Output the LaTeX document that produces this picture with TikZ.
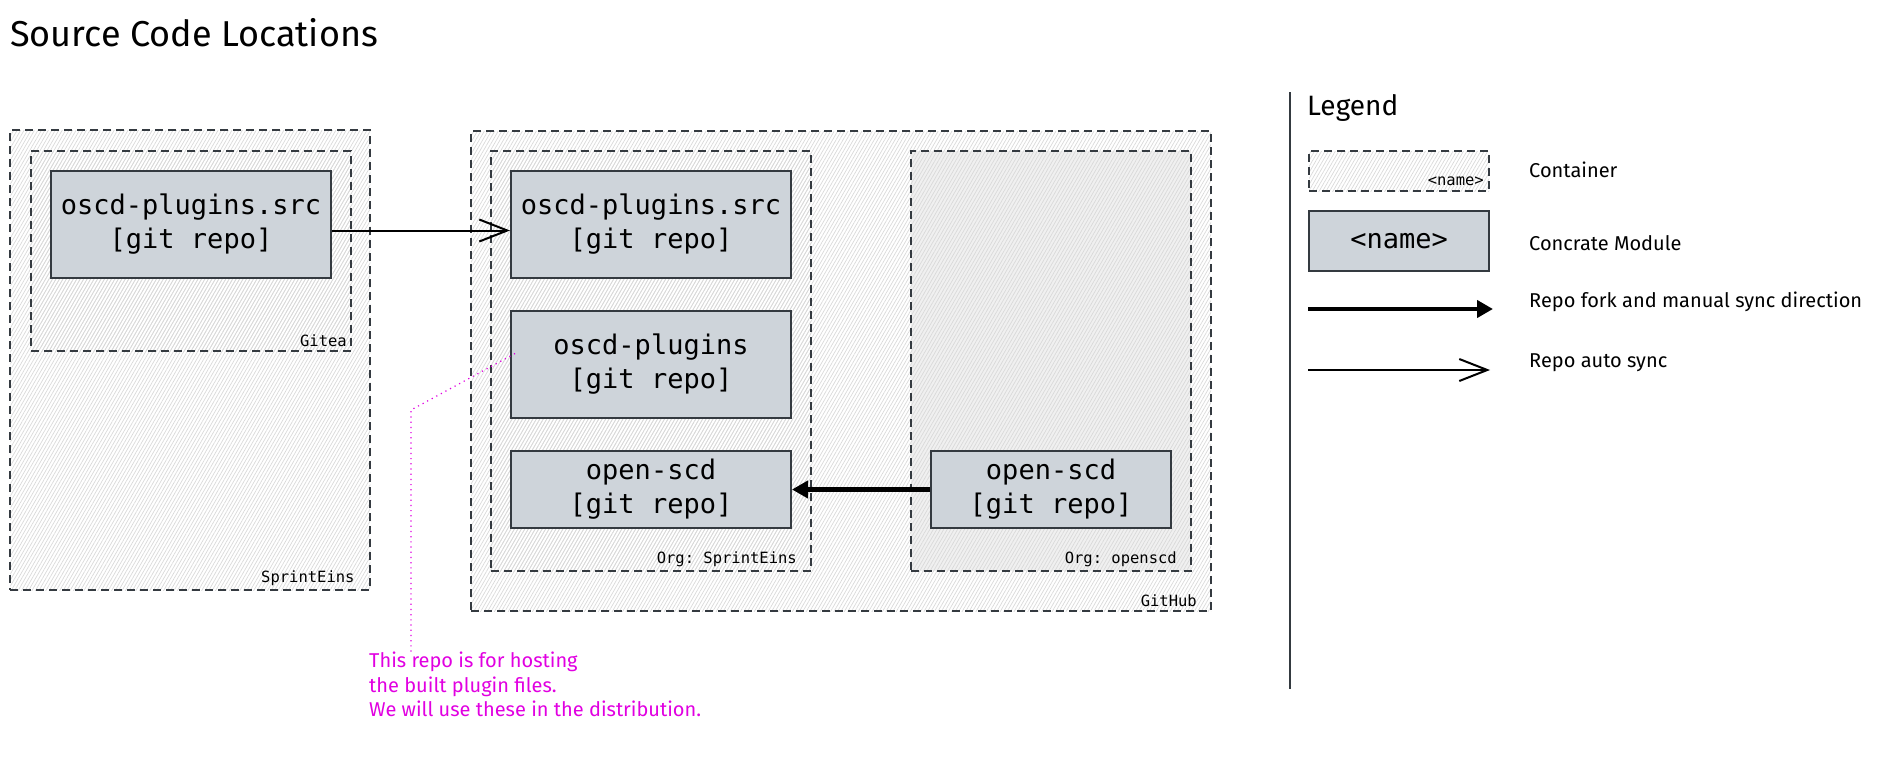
\documentclass[tikz,border=0pt]{standalone}
\usepackage{fontspec}
\setmainfont{Fira Sans}
\setmonofont{DejaVu Sans Mono}
\usetikzlibrary{arrows.meta,patterns.meta,positioning}
\definecolor{modfill}{HTML}{CED4DA}
\definecolor{inkgray}{HTML}{343A40}
\definecolor{notepink}{HTML}{E100E1}
\tikzset{
    container/.style={rectangle, draw=inkgray, line width=2pt, dash pattern=on 8pt off 5pt, pattern={Lines[angle=60,distance=3pt,line width=0.7pt]}, pattern color=gray!30, anchor=north west, inner sep=0pt},
    module/.style={rectangle, draw=inkgray, line width=2pt, fill=modfill, anchor=north west, align=center, inner sep=0pt, font=\ttfamily\fontsize{27}{34}\selectfont},
    tag/.style={anchor=south east, inner sep=0pt, font=\ttfamily\fontsize{15.5}{18}\selectfont},
    hand/.style={anchor=west, inner sep=0pt, font=\fontsize{20}{25}\selectfont},
    fork/.style={-{Triangle[length=16pt,width=17pt]}, line width=4.5pt},
    autosync/.style={-{Straight Barb[length=28pt,width=22pt]}, line width=2pt}
}
\begin{document}
\begin{tikzpicture}[x=1pt,y=-1pt]
	\useasboundingbox (0,0) rectangle (1894,760);
	\node[hand, font=\fontsize{36}{40}\selectfont] (title) at (10,33) {Source Code Locations};
	% containers
	\node[container, minimum width=360pt, minimum height=460pt] (sprinteins) at (10,130) {};
	\node[container, minimum width=320pt, minimum height=200pt] (gitea) at (30,150) {};
	\node[container, minimum width=740pt, minimum height=480pt] (github) at (470,130) {};
	\node[container, minimum width=320pt, minimum height=420pt] (orgse) at (490,150) {};
	\node[container, preaction={fill=gray!12}, minimum width=280pt, minimum height=420pt] (orgos) at (910,150) {};
	\node[tag] (sprinteinstag) at ([shift={(-16,-5)}]sprinteins.south east) {SprintEins};
	\node[tag] (giteatag) at ([shift={(-5,-5)}]gitea.south east) {Gitea};
	\node[tag] (githubtag) at ([shift={(-15,-5)}]github.south east) {GitHub};
	\node[tag] (orgsetag) at ([shift={(-15,-5)}]orgse.south east) {Org: SprintEins};
	\node[tag] (orgostag) at ([shift={(-15,-5)}]orgos.south east) {Org: openscd};
	% repos
	\node[module, minimum width=280pt, minimum height=107pt] (srcA) at (50,170) {oscd-plugins.src\\{[git repo]}};
	\node[module, minimum width=280pt, minimum height=107pt] (srcB) at (510,170) {oscd-plugins.src\\{[git repo]}};
	\node[module, minimum width=280pt, minimum height=107pt] (plg) at (510,310) {oscd-plugins\\{[git repo]}};
	\node[module, minimum width=280pt, minimum height=77pt] (scdA) at (510,450) {open-scd\\{[git repo]}};
	\node[module, minimum width=240pt, minimum height=77pt] (scdB) at (930,450) {open-scd\\{[git repo]}};
	\draw[autosync] ([yshift=-6pt]srcA.east) -- ([yshift=-6pt]srcB.west);
	\draw[fork] (scdB.west) -- (scdA.east);
	% note
	\node[anchor=north west, align=left, inner sep=0pt, text=notepink, font=\fontsize{20}{24.5}\selectfont] (note) at (369,652) {This repo is for hosting\\the built plugin files.\\We will use these in the distribution.};
	\coordinate (bend) at (411,410);
	\draw[notepink, line width=1.2pt, dash pattern=on 1.2pt off 4pt] ([shift={(5,-11)}]plg.west) -- (bend) -- (bend |- note.north);
	% legend
	\coordinate (lgtop) at (1290,92);
	\coordinate (lgbot) at (1290,689);
	\draw[inkgray, line width=2pt] (lgtop) -- (lgbot);
	\node[hand, font=\fontsize{28}{34}\selectfont] (legend) at (1307,108) {Legend};
	\node[container, minimum width=180pt, minimum height=40pt] (lgcont) at (1308,150) {};
	\node[tag] (lgconttag) at ([shift={(-6,-6)}]lgcont.south east) {<name>};
	\node[module, minimum width=180pt, minimum height=60pt] (lgmod) at (1308,210) {<name>};
	\coordinate (forka) at (1308,309);
	\coordinate (forkb) at (1493,309);
	\coordinate (synca) at (1308,370);
	\coordinate (syncb) at (1490,370);
	\draw[fork] (forka) -- (forkb);
	\draw[autosync] (synca) -- (syncb);
	\node[hand] (lgconttxt) at (1529,170) {Container};
	\node[hand] (lgmodtxt) at (1529,243) {Concrate Module};
	\node[hand] (forktxt) at (1529,302) {Repo fork and manual sync direction};
	\node[hand] (synctxt) at (1529,363) {Repo auto sync};
\end{tikzpicture}
\end{document}
